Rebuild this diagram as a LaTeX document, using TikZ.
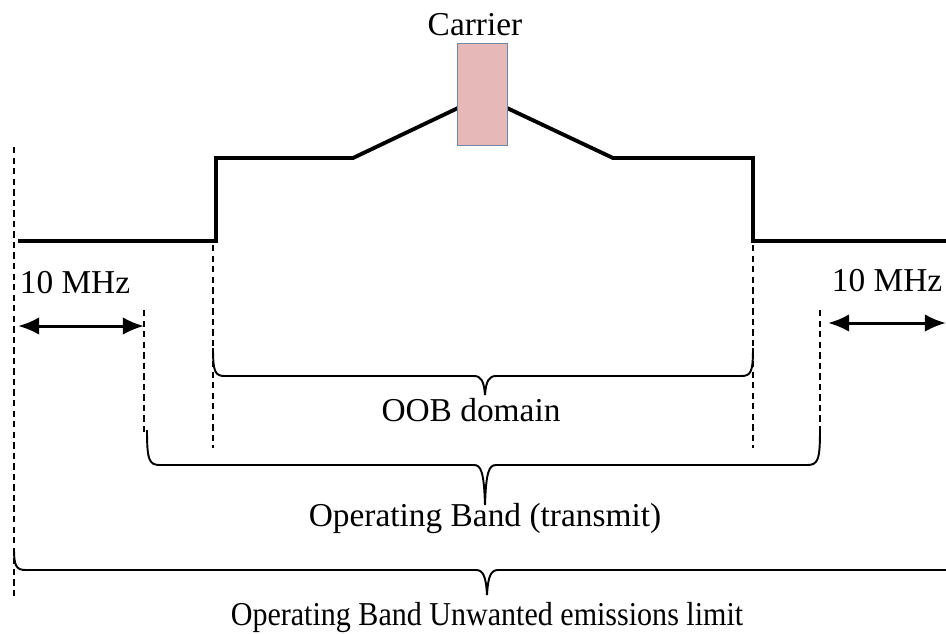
\documentclass[tikz,border=0pt]{standalone}
\usepackage{fontspec}
\setmainfont{Liberation Serif}
\usetikzlibrary{arrows.meta}

\definecolor{carrierpink}{HTML}{E6B8B7}
\definecolor{carrierline}{HTML}{7088A8}

\tikzset{
  spectrum/.style={line width=2.2pt, line join=miter},
  marker/.style={line width=1.5pt, dash pattern=on 3.6pt off 2.4pt},
  bracket/.style={line width=1.1pt},
  span/.style={line width=1.7pt, {Latex[length=12pt,width=10pt]}-{Latex[length=12pt,width=10pt]}},
  txt/.style={font=\fontsize{19}{23}\selectfont, inner sep=0pt}
}

\begin{document}
\begin{tikzpicture}[x=0.02cm, y=-0.02cm]
\useasboundingbox (0,0) rectangle (946,633);
\clip (0,0) rectangle (946,633);

% spectrum mask
\draw[spectrum] (18,241) -- (216,241) -- (216,158) -- (353,158) -- (458,108);
\draw[spectrum] (507,108) -- (613,158) -- (753,158) -- (753,241) -- (946,241);

% carrier
\node[draw=carrierline, fill=carrierpink, line width=0.8pt, minimum width=1cm, minimum height=2.04cm, inner sep=0pt] (carrier) at (482.5,94.5) {};
\node[txt] (carriertxt) at (475,25) {Carrier};

% dashed markers
\draw[marker] (14,147) -- (14,600);
\draw[marker] (144,310) -- (144,432);
\draw[marker] (213,245) -- (213,448);
\draw[marker] (753,245) -- (753,448);
\draw[marker] (820,310) -- (820,432);

% 10 MHz spans
\coordinate (lspanA) at (18,326);
\coordinate (lspanB) at (144,326);
\coordinate (rspanA) at (828,323);
\coordinate (rspanB) at (946,323);
\draw[span] (lspanA) -- (lspanB);
\draw[span] (rspanA) -- (rspanB);
\node[txt] (lmhz) at (75,283) {10 MHz};
\node[txt] (rmhz) at (887,281) {10 MHz};

% braces
\draw[bracket] (213,348) .. controls (213,372) and (215,376) .. (225,376) -- (474,376)
  .. controls (481,376) and (484,381) .. (485,395) .. controls (486,381) and (489,376) .. (496,376)
  -- (741,376) .. controls (751,376) and (753,372) .. (753,348);
\node[txt] (oob) at (471,410) {OOB domain};

\draw[bracket] (147,430) .. controls (147,460) and (149,465) .. (160,465) -- (474,465)
  .. controls (481,465) and (484,472) .. (485,505) .. controls (486,472) and (489,465) .. (496,465)
  -- (807,465) .. controls (818,465) and (820,460) .. (820,430);
\node[txt] (opband) at (485,519) {Operating Band (transmit)};

\draw[bracket] (14,548) .. controls (14,566) and (16,570) .. (26,570) -- (476,570)
  .. controls (483,570) and (486,576) .. (487,595) .. controls (488,576) and (491,570) .. (498,570)
  -- (960,570);
\node[txt, xscale=0.9] (unwanted) at (487,618) {Operating Band Unwanted emissions limit};
\end{tikzpicture}
\end{document}
